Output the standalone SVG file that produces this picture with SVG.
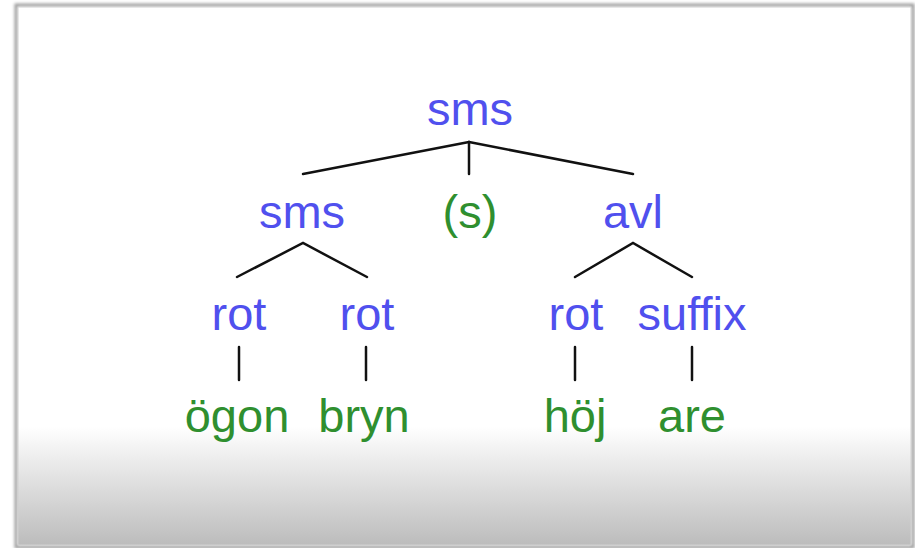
<svg xmlns="http://www.w3.org/2000/svg" width="915" height="548" viewBox="0 0 915 548">
<defs>
<linearGradient id="bg" x1="0" y1="0" x2="0" y2="1">
<stop offset="0" stop-color="#ffffff"/>
<stop offset="0.78" stop-color="#ffffff"/>
<stop offset="1" stop-color="#bcbcbc"/>
</linearGradient>
<filter id="sh" x="-5%" y="-5%" width="110%" height="110%">
<feGaussianBlur stdDeviation="1.5"/>
</filter>
</defs>
<style>
text{font-family:"Liberation Sans",Arial,sans-serif;font-size:47px;text-anchor:middle}
.b{fill:#5050ee}
.g{fill:#2f8f2f}
.e{stroke:#111;stroke-width:2.5;fill:none;stroke-linecap:round}
</style>
<rect width="915" height="548" fill="#ffffff"/>
<rect x="16" y="5" width="897" height="542" fill="none" stroke="#9a9a9a" stroke-width="3" filter="url(#sh)"/>
<rect x="18" y="7" width="893" height="538" fill="url(#bg)" stroke="#d0d0d0" stroke-width="1"/>
<g id="connectors">
<path class="e" d="M303 174 L469 142" stroke-width="3.5"/>
<path class="e" d="M469 142 L633 174"/>
<path class="e" d="M469 142 L469 174"/>
<path class="e" d="M237 277 L303 243 L367 277"/>
<path class="e" d="M575 277 L633 243 L692 277"/>
<path class="e" d="M239 347 L239 380"/>
<path class="e" d="M366 347 L366 380"/>
<path class="e" d="M575 347 L575 380"/>
<path class="e" d="M692 347 L692 380"/>
</g>
<g id="n-root"><text class="b" x="470" y="125">sms</text></g>
<g id="n-sms"><text class="b" x="302" y="228">sms</text></g>
<g id="n-s"><text class="g" x="470" y="228">(s)</text></g>
<g id="n-avl"><text class="b" x="633" y="228">avl</text></g>
<g id="n-rot1"><text class="b" x="239" y="330">rot</text></g>
<g id="n-rot2"><text class="b" x="367" y="330">rot</text></g>
<g id="n-rot3"><text class="b" x="576" y="330">rot</text></g>
<g id="n-suffix"><text class="b" x="692" y="330">suffix</text></g>
<g id="n-ogon"><text class="g" x="237" y="432">ögon</text></g>
<g id="n-bryn"><text class="g" x="364" y="432">bryn</text></g>
<g id="n-hoj"><text class="g" x="575" y="432">höj</text></g>
<g id="n-are"><text class="g" x="692" y="432">are</text></g>
</svg>
